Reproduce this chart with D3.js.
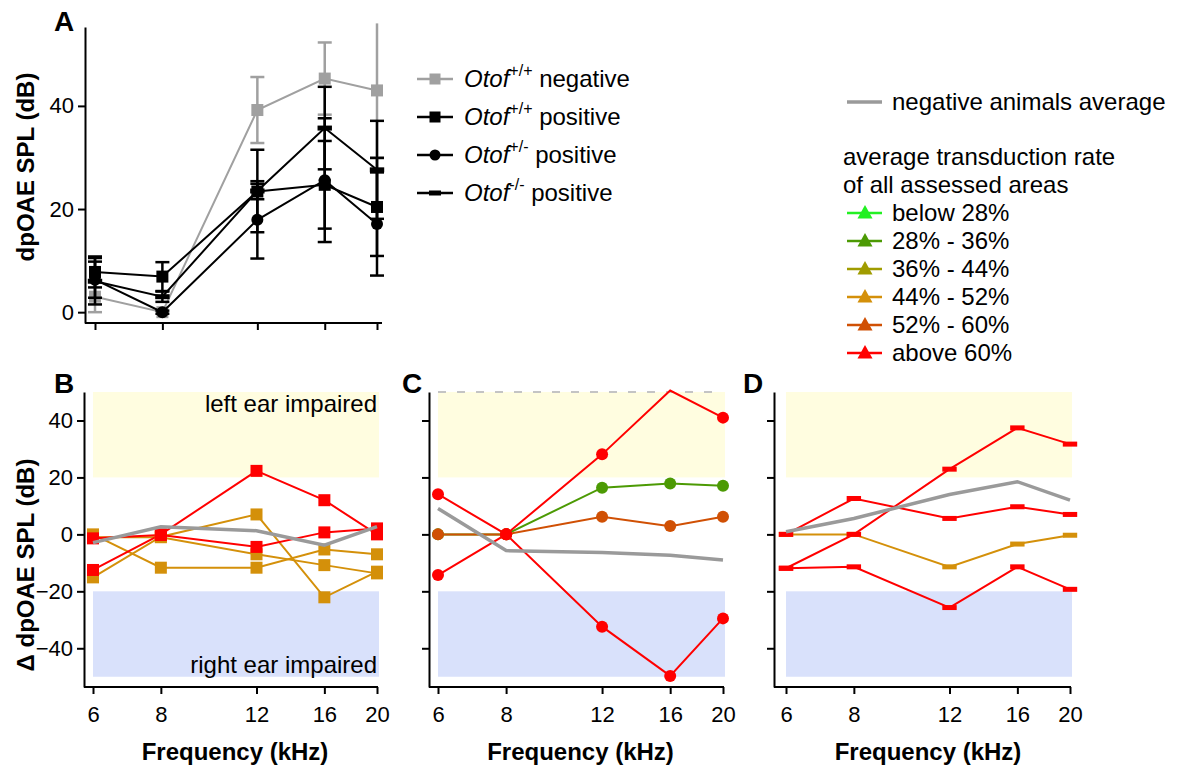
<!DOCTYPE html>
<html>
<head>
<meta charset="utf-8">
<script src="https://cdn.jsdelivr.net/npm/d3@7"></script>
<style>
  body { margin: 0; background: #fff; }
  text { font-family: "Liberation Sans", Arial, Helvetica, sans-serif; fill: #000; }
</style>
</head>
<body>
<svg id="chart" width="1186" height="765"></svg>
<script>
// ---------- data ----------
const freqs = [6, 8, 12, 16, 20];          // kHz
const freqTicks = [6, 8, 12, 16, 20];
const splTicks = [0, 20, 40];
const deltaTicks = [-40, -20, 0, 20, 40];

// Panel A: dpOAE SPL (dB), mean and error per frequency
const negWTMean = [3, 0, 39.2, 45.3, 43];
const negWTErr = [3, 0, 6.4, 7, 13];
const posWTMean = [7.8, 6.9, 23.4, 24.7, 20.4];
const posWTErr = [3, 2.8, 1.5, 8.5, 9.5];
const posHetMean = [6.3, 0, 17.9, 25.6, 17.1];
const posHetErr = [3.5, 0.3, 7.5, 12, 10];
const posKOMean = [6, 3, 23.5, 35.7, 27.6];
const posKOErr = [4.5, 1, 8, 8, 9.5];

// transduction-rate classes
const rateLabels = ["below 28%", "28% - 36%", "36% - 44%", "44% - 52%", "52% - 60%", "above 60%"];
const rateColors = ["#22f022", "#4c9a04", "#a09c00", "#d4900a", "#d05004", "#ff0000"];

// Panel B: Δ dpOAE SPL (dB), Otof+/+ animals
const bRed1 = [-12.5, 0, 22.3, 12, 0];
const bRed2 = [-1.4, -0.2, -4.4, 0.7, 2.1];
const bOrange1 = [0, -11.7, -11.7, -5.3, -7];
const bOrange2 = [-15.1, -0.8, 7, -22.1, -13.1];
const bOrange3 = [-1, -1, -7, -10.8, -13.7];
const bNegAvg = [-2.9, 2.7, 1.3, -3.8, 2.7];

// Panel C: Δ dpOAE SPL (dB), Otof+/- animals
const cGreen = [0, 0, 16.4, 17.9, 17.1];
const cOrangeRed = [0, 0, 6.2, 2.9, 6.2];
const cRed1 = [-14.3, 0, 28.1, 50.5, 41];
const cRed2 = [14.1, 0, -32.4, -49.7, -29.5];
const cNegAvg = [9.1, -5.7, -6.4, -7.3, -9];

// Panel D: Δ dpOAE SPL (dB), Otof-/- animals
const dOrange = [0, 0, -11.4, -3.4, -0.3];
const dRed1 = [-11.9, 0, 22.9, 37.4, 31.7];
const dRed2 = [0, 12.6, 5.6, 9.7, 7];
const dRed3 = [-11.9, -11.4, -25.7, -11.4, -19.3];
const dNegAvg = [0.9, 5.6, 14, 18.5, 12];

// ---------- drawing ----------
const svg = d3.select("#chart");
const rateColor = d3.scaleOrdinal(rateLabels, rateColors);
const GRAY = "#a0a0a0";
const AVG_GRAY = "#9a9a9a";

function markerPath(g, shape, cx, cy, color, size) {
  if (shape === "square") {
    g.append("rect").attr("x", cx - size / 2).attr("y", cy - size / 2)
      .attr("width", size).attr("height", size).attr("fill", color);
  } else if (shape === "circle") {
    g.append("circle").attr("cx", cx).attr("cy", cy).attr("r", size / 2).attr("fill", color);
  } else if (shape === "bar") {
    g.append("rect").attr("x", cx - size * 0.6).attr("y", cy - 2.5)
      .attr("width", size * 1.2).attr("height", 5).attr("fill", color);
  } else if (shape === "triangle") {
    const h = size * 0.9;
    g.append("path")
      .attr("d", `M${cx},${cy - h * 0.6}L${cx + size / 2},${cy + h * 0.4}L${cx - size / 2},${cy + h * 0.4}Z`)
      .attr("fill", color);
  }
}

function styleAxis(sel) {
  sel.selectAll("line").attr("stroke", "#000").attr("stroke-width", 2);
  sel.selectAll("path").attr("stroke", "#000").attr("stroke-width", 2);
  sel.selectAll("text").attr("font-size", 22).attr("fill", "#000")
    .style("font-family", '"Liberation Sans", Arial, sans-serif');
}

// ===== Panel A =====
{
  const axisX = 85;
  const x = d3.scaleLog().domain([6, 20]).range([95, 377]);
  const y = d3.scaleLinear().domain([-2.1, 55.3]).range([323, 27]);
  const g = svg.append("g");

  const yAx = g.append("g").attr("transform", `translate(${axisX},0)`)
    .call(d3.axisLeft(y).tickValues(splTicks).tickSize(7).tickSizeOuter(0).tickPadding(4));
  styleAxis(yAx);

  const xAx = g.append("g").attr("transform", `translate(0,${y.range()[0]})`)
    .call(d3.axisBottom(x).tickValues(freqTicks).tickSize(7).tickSizeOuter(0).tickFormat(""));
  xAx.select(".domain").remove();
  styleAxis(xAx);
  g.append("line").attr("x1", axisX).attr("x2", x(20) + 5)
    .attr("y1", y.range()[0]).attr("y2", y.range()[0])
    .attr("stroke", "#000").attr("stroke-width", 2);

  const groups = [
    { mean: negWTMean, err: negWTErr, color: GRAY, shape: "square" },
    { mean: posWTMean, err: posWTErr, color: "#000", shape: "square" },
    { mean: posHetMean, err: posHetErr, color: "#000", shape: "circle" },
    { mean: posKOMean, err: posKOErr, color: "#000", shape: "bar" }
  ];
  const line = d3.line().x(d => x(d.f)).y(d => y(d.v));

  groups.forEach(s => {
    const pts = freqs.map((f, i) => ({ f, v: s.mean[i], e: s.err[i] }));
    g.append("path").datum(pts).attr("d", line)
      .attr("fill", "none").attr("stroke", s.color).attr("stroke-width", 2);
    pts.forEach(p => {
      if (p.e <= 0) return;
      const top = Math.min(p.v + p.e, 56);
      g.append("line").attr("x1", x(p.f)).attr("x2", x(p.f))
        .attr("y1", y(p.v - p.e)).attr("y2", y(top))
        .attr("stroke", s.color).attr("stroke-width", 2.5);
      [p.v - p.e, p.v + p.e].forEach(v => {
        if (v > 55.3) return;
        g.append("line").attr("x1", x(p.f) - 7).attr("x2", x(p.f) + 7)
          .attr("y1", y(v)).attr("y2", y(v))
          .attr("stroke", s.color).attr("stroke-width", 2.5);
      });
    });
    pts.forEach(p => markerPath(g, s.shape, x(p.f), y(p.v), s.color, 12));
  });

  g.append("text").attr("x", 54).attr("y", 31).attr("font-size", 28)
    .attr("font-weight", "bold").text("A");
  g.append("text")
    .attr("transform", `translate(34,${167}) rotate(-90)`)
    .attr("text-anchor", "middle").attr("font-size", 24).attr("font-weight", "bold")
    .text("dpOAE SPL (dB)");

  // legend for panel A
  const legA = [
    { sup: "+/+", word: " negative", color: GRAY, shape: "square" },
    { sup: "+/+", word: " positive", color: "#000", shape: "square" },
    { sup: "+/-", word: " positive", color: "#000", shape: "circle" },
    { sup: "-/-", word: " positive", color: "#000", shape: "bar" }
  ];
  const rowY = d3.scalePoint().domain(d3.range(legA.length)).range([79, 193]);
  legA.forEach((d, i) => {
    const cy = rowY(i);
    g.append("line").attr("x1", 417).attr("x2", 453).attr("y1", cy).attr("y2", cy)
      .attr("stroke", d.color).attr("stroke-width", 2.5);
    markerPath(g, d.shape, 435, cy, d.color, d.shape === "bar" ? 10 : 11);
    const t = g.append("text").attr("x", 464).attr("y", cy + 8).attr("font-size", 24);
    t.append("tspan").attr("font-style", "italic").text("Otof");
    t.append("tspan").attr("font-size", 16).attr("dy", -11).text(d.sup);
    t.append("tspan").attr("dy", 11).text(d.word);
  });
}

// ===== Panels B, C, D =====
const bottomPanels = [
  {
    letter: "B", letterX: 54, axisX: 84, range: [93, 377], shape: "square", labels: true,
    series: [
      { values: bOrange1, rate: "44% - 52%" },
      { values: bOrange2, rate: "44% - 52%" },
      { values: bOrange3, rate: "44% - 52%" },
      { values: bRed1, rate: "above 60%" },
      { values: bRed2, rate: "above 60%" }
    ],
    avg: bNegAvg
  },
  {
    letter: "C", letterX: 402, axisX: 429, range: [438, 723], shape: "circle", labels: false, breakTop: true,
    series: [
      { values: cGreen, rate: "28% - 36%" },
      { values: cOrangeRed, rate: "52% - 60%" },
      { values: cRed1, rate: "above 60%" },
      { values: cRed2, rate: "above 60%" }
    ],
    avg: cNegAvg
  },
  {
    letter: "D", letterX: 743, axisX: 774, range: [786, 1070], shape: "bar", labels: false,
    series: [
      { values: dOrange, rate: "44% - 52%" },
      { values: dRed1, rate: "above 60%" },
      { values: dRed2, rate: "above 60%" },
      { values: dRed3, rate: "above 60%" }
    ],
    avg: dNegAvg
  }
];

const yB = d3.scaleLinear().domain([-53.6, 50]).range([687, 392]);

bottomPanels.forEach(p => {
  const g = svg.append("g");
  const x = d3.scaleLog().domain([6, 20]).range(p.range);

  // impairment bands
  g.append("rect").attr("x", x(6)).attr("width", x(20) - x(6) + 2)
    .attr("y", yB(50)).attr("height", yB(20) - yB(50)).attr("fill", "#fffde0");
  g.append("rect").attr("x", x(6)).attr("width", x(20) - x(6) + 2)
    .attr("y", yB(-20)).attr("height", yB(-50) - yB(-20)).attr("fill", "#d9e1fb");

  if (p.breakTop) {
    g.append("line").attr("x1", x(6)).attr("x2", x(20))
      .attr("y1", yB(50)).attr("y2", yB(50))
      .attr("stroke", "#c4c4c4").attr("stroke-width", 2).attr("stroke-dasharray", "8,11");
  }

  if (p.labels) {
    g.append("text").attr("x", x(20)).attr("y", 412).attr("text-anchor", "end")
      .attr("font-size", 24).text("left ear impaired");
    g.append("text").attr("x", x(20)).attr("y", 673).attr("text-anchor", "end")
      .attr("font-size", 24).text("right ear impaired");
  }

  const yAx = g.append("g").attr("transform", `translate(${p.axisX},0)`)
    .call(d3.axisLeft(yB).tickValues(deltaTicks).tickSize(7).tickSizeOuter(0).tickPadding(4)
      .tickFormat(p.labels ? d3.format("d") : ""));
  styleAxis(yAx);

  const xAx = g.append("g").attr("transform", `translate(0,${yB.range()[0]})`)
    .call(d3.axisBottom(x).tickValues(freqTicks).tickSize(7).tickSizeOuter(0)
      .tickPadding(12).tickFormat(d3.format("d")));
  xAx.select(".domain").remove();
  styleAxis(xAx);
  g.append("line").attr("x1", p.axisX).attr("x2", x(20) + 1)
    .attr("y1", yB.range()[0]).attr("y2", yB.range()[0])
    .attr("stroke", "#000").attr("stroke-width", 2);

  const line = d3.line().x(d => x(d.f)).y(d => yB(d.v));

  p.series.forEach(s => {
    const pts = freqs.map((f, i) => ({ f, v: s.values[i] }));
    const col = rateColor(s.rate);
    g.append("path").datum(pts).attr("d", line)
      .attr("fill", "none").attr("stroke", col).attr("stroke-width", 2);
  });
  p.series.forEach(s => {
    const col = rateColor(s.rate);
    freqs.forEach((f, i) => {
      const v = s.values[i];
      if (v > 50) return; // beyond axis: not plotted
      markerPath(g, p.shape, x(f), yB(v), col, 12);
    });
  });

  const avgPts = freqs.map((f, i) => ({ f, v: p.avg[i] }));
  g.append("path").datum(avgPts).attr("d", line)
    .attr("fill", "none").attr("stroke", AVG_GRAY).attr("stroke-width", 3.5);

  g.append("text").attr("x", p.letterX).attr("y", 393).attr("font-size", 28)
    .attr("font-weight", "bold").text(p.letter);
  g.append("text").attr("x", (p.range[0] + p.range[1]) / 2).attr("y", 760)
    .attr("text-anchor", "middle").attr("font-size", 24).attr("font-weight", "bold")
    .text("Frequency (kHz)");
});

svg.append("text")
  .attr("transform", `translate(34,565) rotate(-90)`)
  .attr("text-anchor", "middle").attr("font-size", 24).attr("font-weight", "bold")
  .text("Δ dpOAE SPL (dB)");

// ===== right-hand legend =====
{
  const g = svg.append("g");
  g.append("line").attr("x1", 847).attr("x2", 882).attr("y1", 102).attr("y2", 102)
    .attr("stroke", AVG_GRAY).attr("stroke-width", 3.5);
  g.append("text").attr("x", 892).attr("y", 110).attr("font-size", 24).text("negative animals average");
  g.append("text").attr("x", 843).attr("y", 165).attr("font-size", 24).text("average transduction rate");
  g.append("text").attr("x", 843).attr("y", 193).attr("font-size", 24).text("of all assessed areas");

  const rowY = d3.scalePoint().domain(rateLabels).range([213, 353]);
  rateLabels.forEach(r => {
    const cy = rowY(r);
    g.append("line").attr("x1", 847).attr("x2", 882).attr("y1", cy).attr("y2", cy)
      .attr("stroke", rateColor(r)).attr("stroke-width", 2.5);
    markerPath(g, "triangle", 865, cy, rateColor(r), 15);
    g.append("text").attr("x", 892).attr("y", cy + 8).attr("font-size", 24).text(r);
  });
}
</script>
</body>
</html>
